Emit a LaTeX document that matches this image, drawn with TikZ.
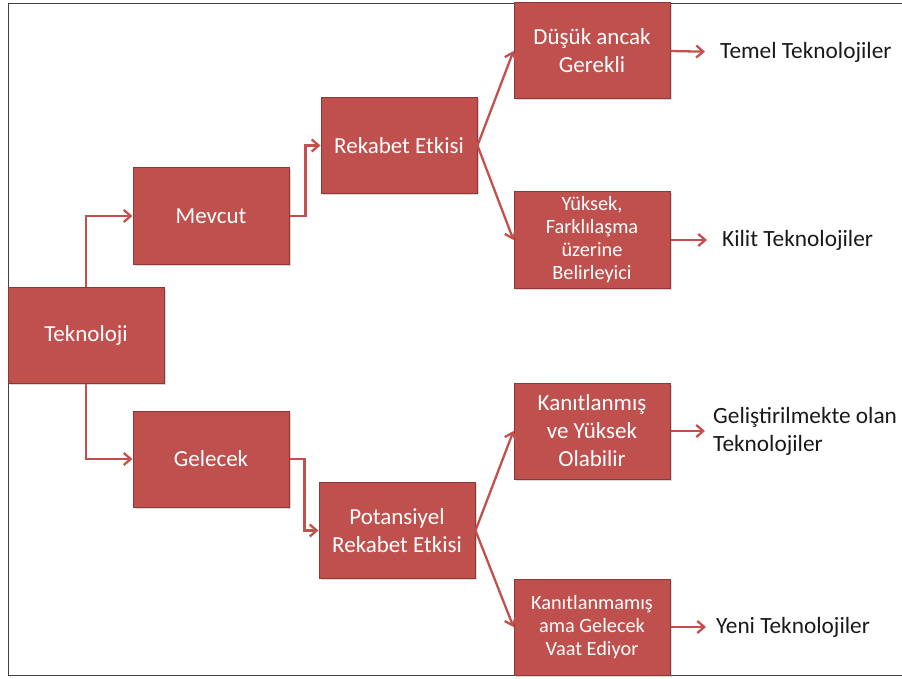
\documentclass[tikz,border=0pt]{standalone}
\usepackage{fontspec}
\setmainfont{Carlito}
\usepackage{xcolor}
\usepackage{tikz}
\usetikzlibrary{arrows.meta,shadows,calc}
\definecolor{boxred}{HTML}{C0504D}
\definecolor{boxedge}{HTML}{8C3836}
\definecolor{arrred}{HTML}{C4504D}
\tikzset{
    box/.style={draw=boxedge, fill=boxred, line width=1pt, minimum width=156pt, minimum height=96pt, inner sep=2pt, align=center, text=white, font=\fontsize{23}{28}\selectfont, drop shadow={shadow xshift=1.5pt, shadow yshift=-1.5pt, opacity=0.3}},
    smallbox/.style={box, font=\fontsize{20.3}{23}\selectfont},
    conn/.style={draw=arrred, line width=2.3pt, -{Straight Barb[length=7pt,width=12pt]}},
    outtxt/.style={inner sep=0pt, anchor=west, align=left, text=black!90, font=\fontsize{23.3}{28}\selectfont}}

\begin{document}
\begin{tikzpicture}[x=1pt,y=-1pt]
\useasboundingbox (0,0) rectangle (902,679);
\draw[line width=0.9pt, black!75] (902,3) -- (8,3) -- (8,675) -- (902,675);
\node[box] (tek) at (86,335) {Teknoloji};
\node[box] (mev) at (211,216) {Mevcut};
\node[box] (gel) at (211,459) {Gelecek};
\node[box] (rek) at (399,145.5) {Rekabet Etkisi};
\node[box] (pot) at (397,530.5) {Potansiyel\\Rekabet Etkisi};
\node[box] (dus) at (592,51) {Düşük ancak\\Gerekli};
\node[smallbox] (yuk) at (592,240) {Yüksek,\\Farklılaşma\\üzerine\\Belirleyici};
\node[box] (kan) at (592,431) {Kanıtlanmış\\ve Yüksek\\Olabilir};
\node[smallbox] (kanm) at (592,627) {Kanıtlanmamış\\ama Gelecek\\Vaat Ediyor};
\node[outtxt] (temel) at (720,52) {Temel Teknolojiler};
\node[outtxt] (kilit) at (722,240) {Kilit Teknolojiler};
\node[outtxt] (gelis) at (713,431) {Geliştirilmekte olan\\Teknolojiler};
\node[outtxt] (yeni) at (716,627) {Yeni Teknolojiler};
\draw[conn] (tek.north) |- (mev.west);
\draw[conn] (tek.south) |- (gel.west);
\draw[conn] (mev.east) -- ++(16,0) |- (rek.west);
\draw[conn] (gel.east) -- ++(15,0) |- (pot.west);
\draw[conn] (rek.east) -- (dus.west);
\draw[conn] (rek.east) -- (yuk.west);
\draw[conn] (pot.east) -- (kan.west);
\draw[conn] (pot.east) -- (kanm.west);
\draw[conn, shorten >=15pt] (dus.east) -- (temel.west);
\draw[conn, shorten >=15pt] (yuk.east) -- (kilit.west);
\draw[conn, shorten >=8pt] (kan.east) -- (gelis.west);
\draw[conn, shorten >=10pt] (kanm.east) -- (yeni.west);
\end{tikzpicture}
\end{document}
